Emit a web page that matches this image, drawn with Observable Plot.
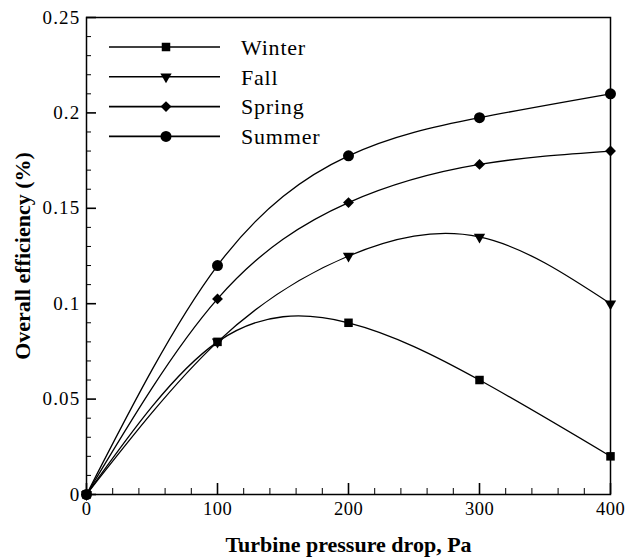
<!DOCTYPE html>
<html>
<head>
<meta charset="utf-8">
<script src="https://cdn.jsdelivr.net/npm/d3@7"></script>
<script src="https://cdn.jsdelivr.net/npm/@observablehq/plot@0.6"></script>
<style>
  html, body { margin: 0; padding: 0; background: #fff; font-family: "Liberation Serif", "DejaVu Serif", serif; }
  #wrap { position: relative; width: 625px; height: 557px; }
  #legend { position: absolute; left: 0; top: 0; }
  #wrap svg text { font-family: "Liberation Serif", "DejaVu Serif", serif !important; }
</style>
</head>
<body>
<div id="wrap"></div>
<script>
const pressure = [0, 100, 200, 300, 400];
const winter = [0, 0.08, 0.09, 0.06, 0.02];
const fall = [0, 0.08, 0.125, 0.135, 0.10];
const spring = [0, 0.1025, 0.153, 0.173, 0.18];
const summer = [0, 0.12, 0.1775, 0.1975, 0.21];

const seriesNames = ["Winter", "Fall", "Spring", "Summer"];
const seriesValues = [winter, fall, spring, summer];
const seriesSymbols = ["square", "triangle", "diamond2", "circle"];
const seriesRotate = [0, 180, 0, 0];
const seriesSizes = [4.8, 4.2, 4.9, 5.5];

const xTicks = [0, 100, 200, 300, 400];
const yTicks = [0, 0.05, 0.1, 0.15, 0.2, 0.25];
const yTickLabels = ["0", "0.05", "0.1", "0.15", "0.2", "0.25"];
const xMinor = d3.range(0, 401, 20).filter(v => v % 100 !== 0);
const yMinor = d3.range(0, 26, 1).filter(v => v % 5 !== 0).map(v => v / 100);

const rows = [];
seriesNames.forEach((name, i) => {
  pressure.forEach((p, j) => rows.push({series: name, x: p, y: seriesValues[i][j], sym: seriesSymbols[i], rot: seriesRotate[i], r: seriesSizes[i]}));
});

const font = "Liberation Serif, DejaVu Serif, serif";

const chart = Plot.plot({
  width: 625,
  height: 557,
  marginLeft: 86,
  marginRight: 15,
  marginTop: 17,
  marginBottom: 63,
  style: {fontFamily: font, fontSize: "19px", color: "#000", background: "#fff"},
  x: {domain: [0, 400]},
  y: {domain: [0, 0.25]},
  marks: [
    Plot.frame({stroke: "#000", strokeWidth: 1.5}),
    Plot.axisX({ticks: xTicks, tickSize: 0, tickPadding: 7, fontSize: 18.5, label: null, className: "xticklab"}),
    Plot.axisY({ticks: yTicks, tickSize: 0, tickPadding: 6, fontSize: 19, tickFormat: (d) => yTickLabels[yTicks.indexOf(d)], label: null, className: "yticklab"}),
    Plot.axisX({ticks: xTicks, tickSize: 11, text: null, label: null, dy: -11, strokeWidth: 1.6}),
    Plot.axisY({ticks: yTicks, tickSize: 10, text: null, label: null, dx: 10, strokeWidth: 1.6}),
    Plot.axisX({ticks: xMinor, tickSize: 6, text: null, label: null, dy: -6, strokeWidth: 1}),
    Plot.axisY({ticks: yMinor, tickSize: 5, text: null, label: null, dx: 5, strokeWidth: 1}),
    Plot.axisX({ticks: [], label: "Turbine pressure drop, Pa", labelAnchor: "center", labelArrow: "none", labelOffset: 57, fontWeight: "bold", fontSize: 22, className: "titlelab"}),
    Plot.axisY({ticks: [], label: "Overall efficiency (%)", labelAnchor: "center", labelArrow: "none", labelOffset: 72, fontWeight: "bold", fontSize: 22, className: "titlelab"}),
    Plot.line(rows, {x: "x", y: "y", z: "series", curve: "natural", stroke: "#000", strokeWidth: 1.3}),
    Plot.dot(rows, {x: "x", y: "y", symbol: "sym", rotate: "rot", r: "r", fill: "#000", stroke: "none"})
  ],
  symbol: {type: "identity"},
  r: {type: "identity"}
});

const wrap = document.getElementById("wrap");
wrap.appendChild(chart);
chart.querySelectorAll(".xticklab text").forEach(t => t.setAttribute("letter-spacing", "0.5"));
chart.querySelectorAll(".yticklab text").forEach(t => t.setAttribute("letter-spacing", "1.2"));
chart.querySelectorAll(".titlelab text").forEach(t => t.setAttribute("letter-spacing", "1"));

const ns = "http://www.w3.org/2000/svg";
const leg = document.createElementNS(ns, "svg");
leg.setAttribute("id", "legend");
leg.setAttribute("width", 625);
leg.setAttribute("height", 160);
const symMap = {square: d3.symbolSquare, triangle: d3.symbolTriangle, diamond2: d3.symbolDiamond2, circle: d3.symbolCircle};
seriesNames.forEach((name, i) => {
  const y = 47 + i * 29.8;
  const ln = document.createElementNS(ns, "line");
  ln.setAttribute("x1", 109); ln.setAttribute("x2", 220);
  ln.setAttribute("y1", y); ln.setAttribute("y2", y);
  ln.setAttribute("stroke", "#000"); ln.setAttribute("stroke-width", 1.6);
  leg.appendChild(ln);
  const p = document.createElementNS(ns, "path");
  const r = seriesSizes[i];
  p.setAttribute("d", d3.symbol(symMap[seriesSymbols[i]], Math.PI * r * r)());
  p.setAttribute("transform", `translate(166,${y}) rotate(${seriesRotate[i]})`);
  p.setAttribute("fill", "#000");
  leg.appendChild(p);
  const t = document.createElementNS(ns, "text");
  t.setAttribute("x", 241); t.setAttribute("y", y);
  t.setAttribute("dy", "0.35em");
  t.setAttribute("font-size", 22);
  t.setAttribute("letter-spacing", "0.8");
  t.textContent = name;
  leg.appendChild(t);
});
wrap.appendChild(leg);
</script>
</body>
</html>
